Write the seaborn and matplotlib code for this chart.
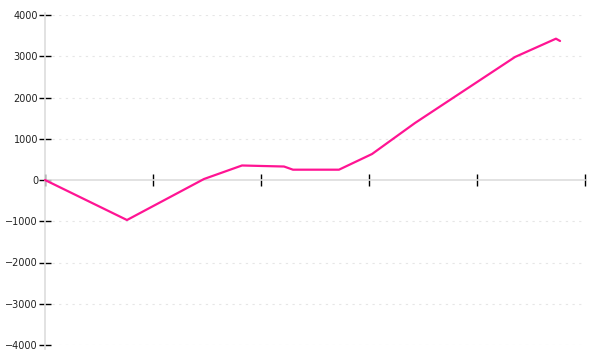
import matplotlib
matplotlib.use("Agg")
import matplotlib.pyplot as plt
import seaborn as sns
import pandas as pd

x_vals = [0.0, 0.759, 1.472, 1.824, 2.019, 2.213, 2.296, 2.722, 3.028, 3.426, 4.352, 4.731, 4.769]
y_vals = [0, -970, 24, 352, 339, 327, 250, 250, 630, 1382, 2982, 3426, 3370]
x_ticks = [0, 1, 2, 3, 4, 5]
y_ticks = [-4000, -3000, -2000, -1000, 0, 1000, 2000, 3000, 4000]

sns.set_style("white")
plt.rcParams['font.family'] = ['DejaVu Sans']

fig = plt.figure(figsize=(6, 3.6), dpi=100)
ax = fig.add_axes([45/600, 1-345/360, 540/600, 330/360])

df = pd.DataFrame({"x": x_vals, "y": y_vals})
sns.lineplot(data=df, x="x", y="y", ax=ax, color="#ff1493", linewidth=1.6, sort=False)
for ln in ax.lines:
    ln.set_zorder(4)
    ln.set_clip_on(False)

ax.set_xlim(0, 5)
ax.set_ylim(-4000, 4000)
ax.set_xticks(x_ticks)
ax.set_xticklabels([])
ax.set_yticks(y_ticks)
ax.set_yticklabels([str(v).replace("-", "\u2212") for v in y_ticks], fontsize=7, color="#222222")
ax.set_xlabel("")
ax.set_ylabel("")

for v in y_ticks:
    if v != 0:
        ax.axhline(v, xmin=7/540, xmax=1, color="#e6e6e6", linewidth=0.8,
                   linestyle=(0, (2, 4)), zorder=0)

for s in ["top", "right"]:
    ax.spines[s].set_visible(False)
ax.spines["bottom"].set_position(("data", 0))
ax.spines["bottom"].set_color("#dddddd")
ax.spines["left"].set_color("#dddddd")
ax.spines["bottom"].set_linewidth(1.2)
ax.spines["left"].set_linewidth(1.2)
ax.spines["left"].set_bounds(-4100, 4050)

ax.tick_params(axis="y", direction="inout", length=8, width=1, color="black", pad=1, left=True)
ax.tick_params(axis="x", direction="inout", length=9, width=1, color="black", bottom=True)

fig.savefig("out.png", dpi=100)
